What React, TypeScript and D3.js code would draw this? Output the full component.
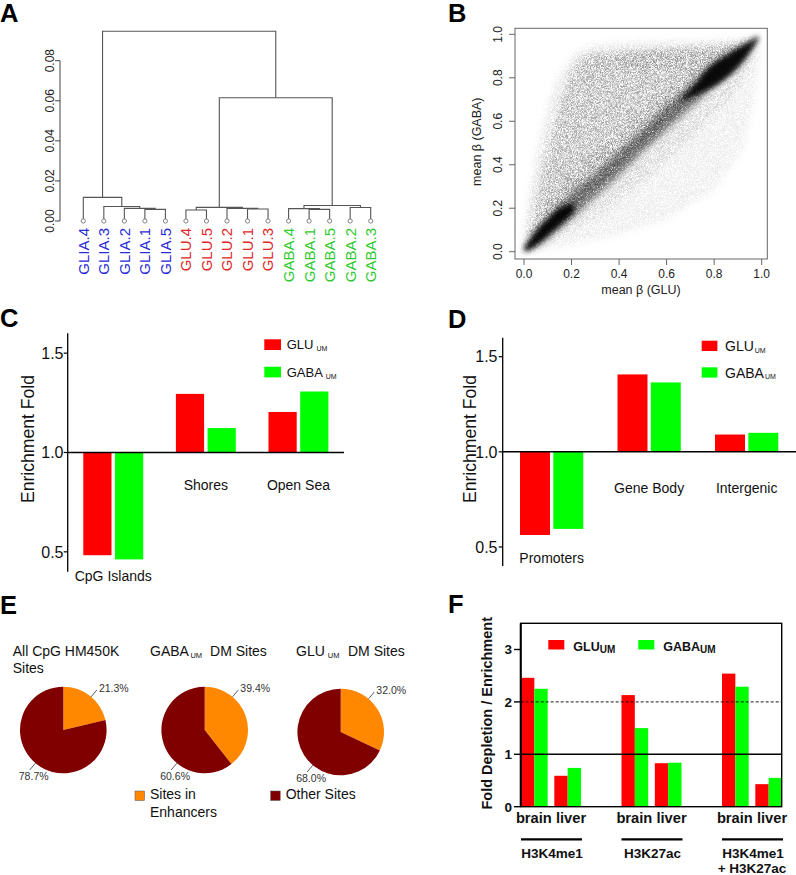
import React from "react";
import * as d3 from "d3";

const FONT = "'Liberation Sans', Arial, Helvetica, sans-serif";

// ---------------- Panel A: dendrogram ----------------
const leafLabels = [
  "GLIA.4", "GLIA.3", "GLIA.2", "GLIA.1", "GLIA.5",
  "GLU.4", "GLU.5", "GLU.2", "GLU.1", "GLU.3",
  "GABA.4", "GABA.1", "GABA.5", "GABA.2", "GABA.3",
];
// [left, right, height]; numbers refer to earlier merges
const merges: [string | number, string | number, number][] = [
  ["GLIA.1", "GLIA.5", 0.0058],
  ["GLIA.2", 0, 0.0063],
  ["GLIA.3", 1, 0.0072],
  ["GLIA.4", 2, 0.0118],
  ["GLU.4", "GLU.5", 0.0055],
  ["GLU.1", "GLU.3", 0.006],
  ["GLU.2", 5, 0.0063],
  [4, 6, 0.0068],
  ["GABA.1", "GABA.5", 0.0058],
  ["GABA.4", 8, 0.0062],
  ["GABA.2", "GABA.3", 0.0067],
  [9, 10, 0.0077],
  [7, 11, 0.0615],
  [3, 12, 0.0947],
];
const dendroTicks = [0, 0.02, 0.04, 0.06, 0.08];
const groupColors: Record<string, string> = { GLIA: "#2b2bd6", GLU: "#e02828", GABA: "#2fc92f" };

// ---------------- Panel B: density of scatter (data coords) ----------------
const betaTicks = [0, 0.2, 0.4, 0.6, 0.8, 1.0];
const diagonal: [number, number][] = [[0.98, 0.98], [0.5, 0.5], [0.0, 0.0]];
const upperHalo: [number, number][] = [
  [0.0, 0.03], [0.0, 0.1], [0.02, 0.25], [0.05, 0.45], [0.09, 0.64], [0.14, 0.8], [0.2, 0.9],
  [0.28, 0.95], [0.45, 0.965], [0.65, 0.97], [0.85, 0.975], [0.98, 0.99],
];
const upperCloud: [number, number][] = [
  [0.02, 0.06], [0.05, 0.24], [0.1, 0.47], [0.15, 0.67], [0.2, 0.83], [0.25, 0.9],
  [0.35, 0.915], [0.5, 0.925], [0.7, 0.935], [0.9, 0.955], [0.97, 0.97],
];
const upperTop: [number, number][] = [
  [0.27, 0.9], [0.5, 0.925], [0.75, 0.94], [0.9, 0.95], [0.75, 0.86], [0.5, 0.82], [0.3, 0.84],
];
const upperNearRidge: [number, number][] = [
  [0.03, 0.12], [0.15, 0.3], [0.3, 0.45], [0.5, 0.64], [0.7, 0.83], [0.85, 0.93], [0.95, 0.97],
];
const lowerHalo: [number, number][] = [
  [0.03, 0.0], [0.2, 0.03], [0.4, 0.08], [0.6, 0.15], [0.8, 0.28], [0.92, 0.47],
  [0.97, 0.7], [0.99, 0.9], [0.99, 0.98],
];
const lowerCloud: [number, number][] = [
  [0.06, 0.02], [0.3, 0.16], [0.5, 0.32], [0.7, 0.52], [0.85, 0.68], [0.95, 0.84], [0.98, 0.95],
];
const ridge = [
  { x: 0.0, lo: 0.0, hi: 0.02 }, { x: 0.05, lo: 0.02, hi: 0.1 }, { x: 0.1, lo: 0.06, hi: 0.16 },
  { x: 0.2, lo: 0.15, hi: 0.27 }, { x: 0.3, lo: 0.25, hi: 0.36 }, { x: 0.4, lo: 0.35, hi: 0.46 },
  { x: 0.5, lo: 0.46, hi: 0.56 }, { x: 0.6, lo: 0.56, hi: 0.67 }, { x: 0.7, lo: 0.66, hi: 0.77 },
  { x: 0.8, lo: 0.76, hi: 0.87 }, { x: 0.9, lo: 0.85, hi: 0.94 }, { x: 0.95, lo: 0.92, hi: 0.97 },
  { x: 0.985, lo: 0.98, hi: 0.99 },
];
const ridgeCoreLow = [
  { x: 0.005, lo: 0.0, hi: 0.02 }, { x: 0.05, lo: 0.03, hi: 0.09 }, { x: 0.1, lo: 0.075, hi: 0.15 },
  { x: 0.15, lo: 0.12, hi: 0.2 }, { x: 0.21, lo: 0.18, hi: 0.225 },
];
const ridgeCoreHigh = [
  { x: 0.66, lo: 0.69, hi: 0.7 }, { x: 0.72, lo: 0.72, hi: 0.77 }, { x: 0.78, lo: 0.75, hi: 0.85 },
  { x: 0.84, lo: 0.79, hi: 0.895 }, { x: 0.9, lo: 0.85, hi: 0.935 }, { x: 0.95, lo: 0.92, hi: 0.965 },
  { x: 0.985, lo: 0.98, hi: 0.99 },
];

// ---------------- Panels C & D: enrichment ----------------
const cCategories = ["CpG Islands", "Shores", "Open Sea"];
const cGLU = [0.483, 1.295, 1.204];
const cGABA = [0.462, 1.123, 1.307];
const dCategories = ["Promoters", "Gene Body", "Intergenic"];
const dGLU = [0.563, 1.407, 1.091];
const dGABA = [0.595, 1.365, 1.1];
const enrichTicks = [0.5, 1.0, 1.5];
const seriesNames = ["GLU", "GABA"];
const seriesColors = ["#ff0000", "#00ff00"];

// ---------------- Panel E: pies ----------------
const pieTitles = ["All CpG HM450K", "GABA", "GLU"];
const pieEnhancers = [21.3, 39.4, 32.0];
const pieOther = [78.7, 60.6, 68.0];
const pieColors = ["#ff8800", "#800000"];

// ---------------- Panel F: histone marks ----------------
const fMarks = ["H3K4me1", "H3K27ac", "H3K4me1 + H3K27ac"];
const fTissues = ["brain", "liver"];
const fGLU = { brain: [2.46, 2.13, 2.54], liver: [0.59, 0.83, 0.43] };
const fGABA = { brain: [2.25, 1.5, 2.29], liver: [0.74, 0.84, 0.55] };
const fTicks = [0, 1, 2, 3];

function PanelLabel({ x, y, t }: { x: number; y: number; t: string }) {
  return (
    <text x={x} y={y} fontSize={25.5} fontWeight="bold" fill="#000">{t}</text>
  );
}

function PanelA() {
  const x = d3.scalePoint<string>().domain(leafLabels).range([83.3, 370.7]);
  const y = d3.scaleLinear().domain([0, 0.08]).range([221, 60.7]);
  const nodes: { x: number; h: number }[] = [];
  const pos = (r: string | number) => (typeof r === "string" ? { x: x(r)!, h: 0 } : nodes[r]);
  const segs: string[] = [];
  merges.forEach(([a, b, h]) => {
    const L = pos(a), R = pos(b);
    segs.push(`M${L.x},${y(L.h)}V${y(h)}H${R.x}V${y(R.h)}`);
    nodes.push({ x: (L.x + R.x) / 2, h });
  });
  return (
    <g>
      <PanelLabel x={0} y={22} t="A" />
      {segs.map((d, i) => (
        <path key={i} d={d} fill="none" stroke="#555" strokeWidth={1.1} />
      ))}
      {leafLabels.map((l) => (
        <circle key={l} cx={x(l)} cy={y(0)} r={2.1} fill="#fff" stroke="#777" strokeWidth={0.9} />
      ))}
      <line x1={60} x2={60} y1={y(0)} y2={y(0.08)} stroke="#444" />
      {dendroTicks.map((t) => (
        <g key={t}>
          <line x1={55} x2={60} y1={y(t)} y2={y(t)} stroke="#444" />
          <text transform={`translate(54,${y(t)}) rotate(-90)`} textAnchor="middle" fontSize={12} fill="#222">
            {t.toFixed(2)}
          </text>
        </g>
      ))}
      {leafLabels.map((l) => (
        <text key={l} transform={`translate(${x(l)! + 5.4},228) rotate(-90)`} textAnchor="end" fontSize={15}
          fill={groupColors[l.split(".")[0]]}>
          {l}
        </text>
      ))}
    </g>
  );
}

function PanelB() {
  const x = d3.scaleLinear().domain([0, 1]).range([524, 761.7]);
  const y = d3.scaleLinear().domain([0, 1]).range([251.7, 34.3]);
  const line = d3.line<[number, number]>().x((d) => x(d[0])).y((d) => y(d[1]));
  const upperPoly = (pts: [number, number][]) => line([...pts, ...diagonal])! + "Z";
  const lowerPoly = (pts: [number, number][]) => line([...pts, [0.5, 0.5], [0.0, 0.0]])! + "Z";
  const band = d3.area<{ x: number; lo: number; hi: number }>()
    .x((d) => x(d.x)).y0((d) => y(d.lo)).y1((d) => y(d.hi)).curve(d3.curveCatmullRom);
  return (
    <g>
      <PanelLabel x={448} y={22} t="B" />
      <defs>
        <clipPath id="clipB"><rect x={515} y={28.3} width={252.3} height={230.7} /></clipPath>
        <filter id="speckle" filterUnits="userSpaceOnUse" x={515} y={28} width={253} height={232}>
          <feGaussianBlur in="SourceGraphic" stdDeviation={3.5} result="b" />
          <feTurbulence type="fractalNoise" baseFrequency={2.2} numOctaves={1} seed={4} result="n" />
          <feColorMatrix in="n" type="matrix"
            values="0 0 0 0 0  0 0 0 0 0  0 0 0 0 0  0 0 0 3 -1" result="m" />
          <feComposite in="b" in2="m" operator="arithmetic" k1={1.1} k2={0} k3={0} k4={0} />
        </filter>
        <filter id="speckleRidge" filterUnits="userSpaceOnUse" x={515} y={28} width={253} height={232}>
          <feGaussianBlur in="SourceGraphic" stdDeviation={3} result="b" />
          <feTurbulence type="fractalNoise" baseFrequency={2.2} numOctaves={1} seed={9} result="n" />
          <feColorMatrix in="n" type="matrix"
            values="0 0 0 0 0  0 0 0 0 0  0 0 0 0 0  0 0 0 3 -0.5" result="m" />
          <feComposite in="b" in2="m" operator="arithmetic" k1={1} k2={0} k3={0} k4={0} />
        </filter>
        <filter id="blurCore" x="-20%" y="-20%" width="140%" height="140%"><feGaussianBlur stdDeviation={2.6} /></filter>
      </defs>
      <g clipPath="url(#clipB)">
        <g filter="url(#speckle)">
          <path d={upperPoly(upperHalo)} fill="#000" fillOpacity={0.1} />
          <path d={lowerPoly(lowerHalo)} fill="#000" fillOpacity={0.08} />
          <path d={upperPoly(upperCloud)} fill="#000" fillOpacity={0.24} />
          <path d={lowerPoly(lowerCloud)} fill="#000" fillOpacity={0.1} />
          <path d={line(upperTop)! + "Z"} fill="#000" fillOpacity={0.1} />
          <path d={upperPoly(upperNearRidge)} fill="#000" fillOpacity={0.12} />
        </g>
        <path d={band(ridge)!} fill="#000" opacity={0.5} filter="url(#speckleRidge)" />
        <path d={band(ridgeCoreLow)!} fill="#000" opacity={0.95} filter="url(#blurCore)" />
        <path d={band(ridgeCoreHigh)!} fill="#000" opacity={0.92} filter="url(#blurCore)" />
      </g>
      <rect x={515} y={28.3} width={252.3} height={230.7} fill="none" stroke="#666" strokeWidth={1} />
      {betaTicks.map((t) => (
        <g key={"x" + t}>
          <line x1={x(t)} x2={x(t)} y1={259} y2={265} stroke="#666" />
          <text x={x(t)} y={278} textAnchor="middle" fontSize={12} fill="#222">{t.toFixed(1)}</text>
          <line x1={509} x2={515} y1={y(t)} y2={y(t)} stroke="#666" />
          <text transform={`translate(502,${y(t)}) rotate(-90)`} textAnchor="middle" fontSize={12} fill="#222">{t.toFixed(1)}</text>
        </g>
      ))}
      <text x={641} y={294} textAnchor="middle" fontSize={12.5} fill="#222">mean β (GLU)</text>
      <text transform="translate(481,141.7) rotate(-90)" textAnchor="middle" fontSize={12.5} fill="#222">mean β (GABA)</text>
    </g>
  );
}

type EnrichGeom = {
  label: [number, number, string];
  y0: number; y1: number; axisX: number; tickEnd: number; lineEnd: number;
  band: [number, number]; padOuter: number; padInner: number;
  posLabelOff: number; negLabelOff: number;
  legX: number; legY: [number, number]; legW: number; legH: number;
  legTextX: number; legBase: [number, number]; legFont: number; subDx: number;
  titleX: number; titleY: number;
};

function EnrichPanel({ cats, glu, gaba, g }: { cats: string[]; glu: number[]; gaba: number[]; g: EnrichGeom }) {
  const y = d3.scaleLinear().domain([0.4, 1.6]).range([g.y0, g.y1]);
  const xb = d3.scaleBand<string>().domain(cats).range(g.band).paddingInner(g.padOuter).paddingOuter(0);
  const xs = d3.scaleBand<string>().domain(seriesNames).range([0, xb.bandwidth()]).paddingInner(g.padInner);
  const vals = [glu, gaba];
  return (
    <g>
      <PanelLabel x={g.label[0]} y={g.label[1]} t={g.label[2]} />
      {cats.map((c, i) =>
        seriesNames.map((s, k) => {
          const v = vals[k][i];
          const top = Math.min(y(v), y(1));
          return (
            <rect key={c + s} x={xb(c)! + xs(s)!} width={xs.bandwidth()} y={top}
              height={Math.abs(y(v) - y(1))} fill={seriesColors[k]} />
          );
        })
      )}
      <line x1={g.axisX} x2={g.axisX} y1={g.y0} y2={g.y1} stroke="#000" strokeWidth={1.3} />
      <line x1={g.axisX} x2={g.lineEnd} y1={y(1)} y2={y(1)} stroke="#000" strokeWidth={1.5} />
      {enrichTicks.map((t) => (
        <g key={t}>
          <line x1={g.axisX - 4} x2={g.axisX} y1={y(t)} y2={y(t)} stroke="#000" strokeWidth={1.2} />
          <text x={g.tickEnd} y={y(t)} dy="0.36em" textAnchor="end" fontSize={16} fill="#111">{t.toFixed(1)}</text>
        </g>
      ))}
      {cats.map((c, i) => {
        const neg = glu[i] < 1;
        const ly = neg ? y(Math.min(glu[i], gaba[i])) + g.negLabelOff : y(1) + g.posLabelOff;
        return (
          <text key={c} x={xb(c)! + xb.bandwidth() / 2} y={ly} textAnchor="middle" fontSize={14} fill="#111">{c}</text>
        );
      })}
      {seriesNames.map((s, k) => (
        <g key={s}>
          <rect x={g.legX} y={g.legY[k]} width={g.legW} height={g.legH} fill={seriesColors[k]} />
          <text x={g.legTextX} y={g.legBase[k]} fontSize={g.legFont} fill="#111">
            {s}
            <tspan fontSize={7} dx={g.subDx} dy={1.5}>UM</tspan>
          </text>
        </g>
      ))}
      <text transform={`translate(${g.titleX},${g.titleY}) rotate(-90)`} textAnchor="middle" fontSize={17.6} fill="#111">
        Enrichment Fold
      </text>
    </g>
  );
}

const geomC: EnrichGeom = {
  label: [0, 327, "C"], y0: 571.7, y1: 333.3, axisX: 67.7, tickEnd: 63.5, lineEnd: 344,
  band: [83.3, 328.4], padOuter: 0.353, padInner: 0.11, posLabelOff: 37.5, negLabelOff: 22,
  legX: 264.3, legY: [339.3, 366.7], legW: 16.7, legH: 10.7, legTextX: 286.7, legBase: [349.3, 377.3],
  legFont: 13, subDx: 3, titleX: 34.3, titleY: 439,
};
const geomD: EnrichGeom = {
  label: [448, 328, "D"], y0: 566, y1: 337.7, axisX: 502.7, tickEnd: 497.5, lineEnd: 796,
  band: [520, 778.3], padOuter: 0.351, padInner: 0.1, posLabelOff: 41.6, negLabelOff: 28,
  legX: 701.7, legY: [340.7, 367.3], legW: 15.7, legH: 10.3, legTextX: 725, legBase: [351, 377.7],
  legFont: 14, subDx: 1, titleX: 476, titleY: 439,
};

function PanelE() {
  const centers: [number, number][] = [[63.3, 730], [204.7, 730], [340.7, 732]];
  const r = 43.3;
  const pie = d3.pie<number>().sort(null).value((d) => d);
  const arc = d3.arc<d3.PieArcDatum<number>>().innerRadius(0).outerRadius(r);
  const labA = (40 * Math.PI) / 180, labB = (220 * Math.PI) / 180;
  const pt = (a: number, rr: number, c: [number, number]) => [c[0] + rr * Math.sin(a), c[1] - rr * Math.cos(a)];
  return (
    <g>
      <PanelLabel x={0} y={614} t="E" />
      <text x={12.7} y={656.3} fontSize={14} fill="#111">{pieTitles[0]}</text>
      <text x={12.7} y={673.3} fontSize={14} fill="#111">Sites</text>
      <text x={150} y={656.3} fontSize={14} fill="#111">
        {pieTitles[1]}<tspan fontSize={7.5} dx={1.5} dy={1.5}>UM</tspan><tspan dx={8} dy={-1.5}>DM Sites</tspan>
      </text>
      <text x={296} y={656.3} fontSize={14} fill="#111">
        {pieTitles[2]}<tspan fontSize={7.5} dx={3} dy={1.5}>UM</tspan><tspan dx={8.5} dy={-1.5}>DM Sites</tspan>
      </text>
      {centers.map((c, i) => {
        const arcs = pie([pieEnhancers[i], pieOther[i]]);
        const a1 = pt(labA, r, c), a2 = pt(labA, r + 9, c);
        const b1 = pt(labB, r, c), b2 = pt(labB, r + 9, c);
        return (
          <g key={i}>
            <g transform={`translate(${c[0]},${c[1]})`}>
              {arcs.map((a, k) => (
                <path key={k} d={arc(a)!} fill={pieColors[k]} />
              ))}
            </g>
            <line x1={a1[0]} y1={a1[1]} x2={a2[0]} y2={a2[1]} stroke="#333" strokeWidth={0.8} />
            <line x1={b1[0]} y1={b1[1]} x2={b2[0]} y2={b2[1]} stroke="#333" strokeWidth={0.8} />
            <text x={a2[0] + 2} y={a2[1] + 2} fontSize={10.5} fill="#333">{pieEnhancers[i].toFixed(1)}%</text>
            <text x={b2[0] + 4} y={b2[1] + 9.5} textAnchor="middle" fontSize={10.5} fill="#333">{pieOther[i].toFixed(1)}%</text>
          </g>
        );
      })}
      <rect x={135} y={791} width={9.5} height={9.5} fill={pieColors[0]} stroke="#555" strokeWidth={0.5} />
      <text x={150} y={799.3} fontSize={14} fill="#111">Sites in</text>
      <text x={150} y={816.7} fontSize={14} fill="#111">Enhancers</text>
      <rect x={270.7} y={791} width={9.5} height={9.5} fill={pieColors[1]} stroke="#555" strokeWidth={0.5} />
      <text x={285.7} y={799.3} fontSize={14} fill="#111">Other Sites</text>
    </g>
  );
}

function PanelF() {
  const y = d3.scaleLinear().domain([0, 3.5]).range([806.7, 623.3]);
  const xg = d3.scaleBand<string>().domain(fMarks).range([521, 782]).paddingInner(0.403).paddingOuter(0);
  const xt = d3.scaleBand<string>().domain(fTissues).range([0, xg.bandwidth()]).paddingInner(0.2);
  const xs = d3.scaleBand<string>().domain(seriesNames).range([0, xt.bandwidth()]);
  const series = [fGLU, fGABA] as Record<string, number[]>[];
  return (
    <g>
      <PanelLabel x={448} y={613} t="F" />
      {fMarks.map((m, i) =>
        fTissues.map((t) =>
          seriesNames.map((s, k) => {
            const v = series[k][t][i];
            return (
              <rect key={m + t + s} x={xg(m)! + xt(t)! + xs(s)!} width={xs.bandwidth()} y={y(v)}
                height={y(0) - y(v)} fill={seriesColors[k]} />
            );
          })
        )
      )}
      <line x1={520.7} x2={781.7} y1={y(2)} y2={y(2)} stroke="#000" strokeWidth={0.9} strokeDasharray="3,2" />
      <line x1={520.7} x2={781.7} y1={y(1)} y2={y(1)} stroke="#000" strokeWidth={1.4} />
      <rect x={520.7} y={623.3} width={261} height={183.4} fill="none" stroke="#000" strokeWidth={1.4} />
      <line x1={520.7} x2={520.7} y1={623.3} y2={806.7} stroke="#000" strokeWidth={2} />
      {fTicks.map((t) => (
        <g key={t}>
          <line x1={514} x2={520.7} y1={y(t)} y2={y(t)} stroke="#000" strokeWidth={1.4} />
          <text x={512} y={y(t)} dy="0.36em" textAnchor="end" fontSize={13.5} fontWeight="bold" fill="#111">{t}</text>
        </g>
      ))}
      <text transform="translate(492,713.3) rotate(-90)" textAnchor="middle" fontSize={14.5} fontWeight="bold" fill="#111">
        Fold Depletion / Enrichment
      </text>
      {seriesNames.map((s, k) => (
        <g key={s}>
          <rect x={[548.3, 638.3][k]} y={640} width={16} height={9.5} fill={seriesColors[k]} />
          <text x={[573.3, 663.3][k]} y={651} fontSize={12.5} fontWeight="bold" fill="#111">
            {s}<tspan fontSize={10} dy={2}>UM</tspan>
          </text>
        </g>
      ))}
      {fMarks.map((m) => {
        const cx = xg(m)! + xg.bandwidth() / 2;
        const parts = m.split(" + ");
        return (
          <g key={m}>
            <text x={cx} y={823.3} textAnchor="middle" fontSize={14.7} fontWeight="bold" fill="#111">
              {fTissues.join(" ")}
            </text>
            <line x1={xg(m)!} x2={xg(m)! + xg.bandwidth() + 1} y1={839.3} y2={839.3} stroke="#000" strokeWidth={2.2} />
            <text x={cx + 1} y={857.5} textAnchor="middle" fontSize={13.5} fontWeight="bold" fill="#111">{parts[0]}</text>
            {parts[1] && (
              <text x={cx} y={872.5} textAnchor="middle" fontSize={13.5} fontWeight="bold" fill="#111">+ {parts[1]}</text>
            )}
          </g>
        );
      })}
    </g>
  );
}

export default function App() {
  return (
    <svg width={796} height={875} viewBox="0 0 796 875" fontFamily={FONT}
      style={{ position: "absolute", left: 0, top: 0, background: "#fff" }}>
      <rect width={796} height={875} fill="#fff" />
      <PanelA />
      <PanelB />
      <EnrichPanel cats={cCategories} glu={cGLU} gaba={cGABA} g={geomC} />
      <EnrichPanel cats={dCategories} glu={dGLU} gaba={dGABA} g={geomD} />
      <PanelE />
      <PanelF />
    </svg>
  );
}
